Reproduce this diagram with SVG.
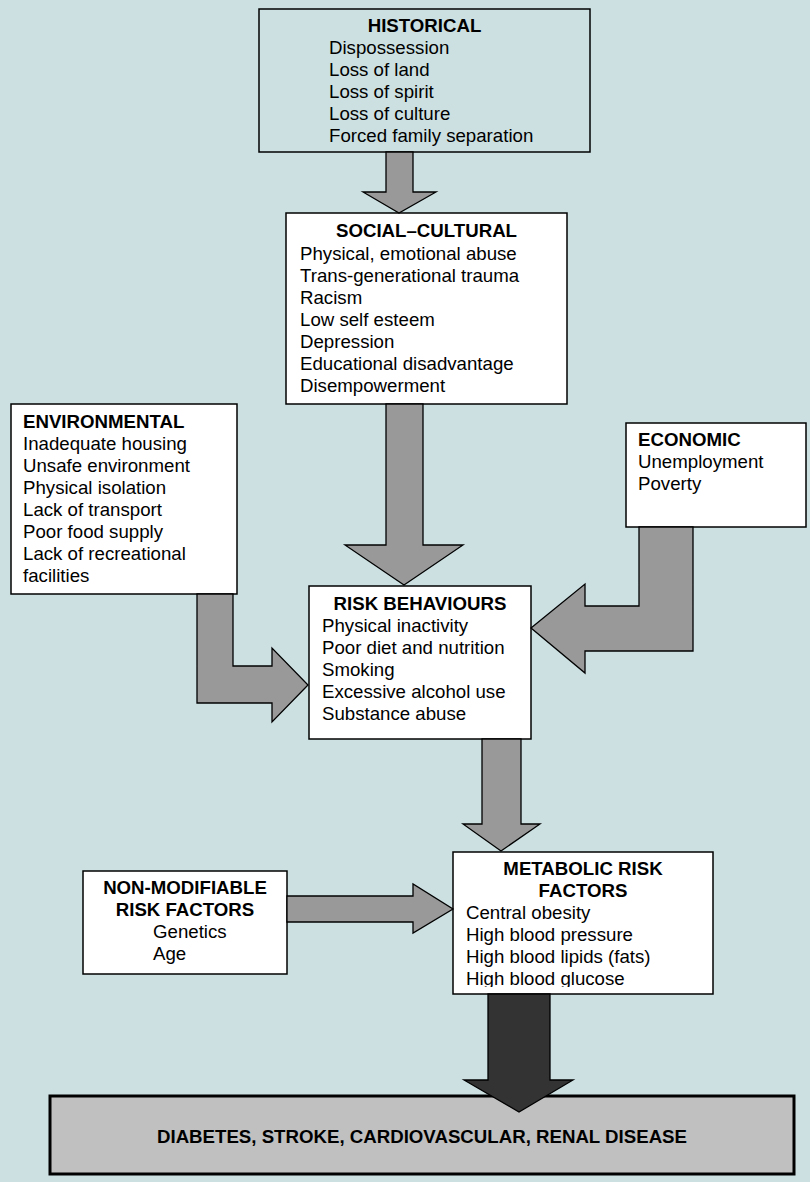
<svg xmlns="http://www.w3.org/2000/svg" width="810" height="1182" viewBox="0 0 810 1182">
<defs>
<style>
text{font-family:"Liberation Sans",Arial,sans-serif;font-size:18.67px;fill:#000}
.t{font-weight:bold}
.c{text-anchor:middle}
.box{fill:#fff;stroke:#000;stroke-width:1.5}
.arr{fill:#999;stroke:#000;stroke-width:1.3;stroke-linejoin:miter}
.dark{fill:#333;stroke:#000;stroke-width:1.3}
</style>
<clipPath id="mclip"><rect x="453" y="852" width="260" height="135"/></clipPath>
</defs>
<rect width="810" height="1182" fill="#CCE0E2"/>

<g id="historical">
<rect x="259" y="9" width="331" height="143" fill="#CCE0E2" stroke="#000" stroke-width="1.5"/>
<text class="t c" x="424.5" y="32">HISTORICAL</text>
<text x="329" y="54">Dispossession</text>
<text x="329" y="76">Loss of land</text>
<text x="329" y="98">Loss of spirit</text>
<text x="329" y="120">Loss of culture</text>
<text x="329" y="142">Forced family separation</text>
</g>

<g id="social-cultural">
<rect class="box" x="286" y="213" width="281" height="191"/>
<text class="t c" x="426.5" y="237">SOCIAL–CULTURAL</text>
<text x="300" y="260">Physical, emotional abuse</text>
<text x="300" y="282">Trans-generational trauma</text>
<text x="300" y="304">Racism</text>
<text x="300" y="326">Low self esteem</text>
<text x="300" y="348">Depression</text>
<text x="300" y="370">Educational disadvantage</text>
<text x="300" y="392">Disempowerment</text>
</g>

<g id="environmental">
<rect class="box" x="11" y="404" width="226" height="190"/>
<text class="t" x="23" y="428">ENVIRONMENTAL</text>
<text x="23" y="450">Inadequate housing</text>
<text x="23" y="472">Unsafe environment</text>
<text x="23" y="494">Physical isolation</text>
<text x="23" y="516">Lack of transport</text>
<text x="23" y="538">Poor food supply</text>
<text x="23" y="560">Lack of recreational</text>
<text x="23" y="582">facilities</text>
</g>

<g id="economic">
<rect class="box" x="626" y="423" width="180" height="104"/>
<text class="t" x="638" y="446">ECONOMIC</text>
<text x="638" y="468">Unemployment</text>
<text x="638" y="490">Poverty</text>
</g>

<g id="risk-behaviours">
<rect class="box" x="309" y="586" width="222" height="153"/>
<text class="t c" x="420" y="610">RISK BEHAVIOURS</text>
<text x="322" y="632">Physical inactivity</text>
<text x="322" y="654">Poor diet and nutrition</text>
<text x="322" y="676">Smoking</text>
<text x="322" y="698">Excessive alcohol use</text>
<text x="322" y="720">Substance abuse</text>
</g>

<g id="non-modifiable">
<rect class="box" x="83" y="871" width="204" height="103"/>
<text class="t c" x="185" y="894">NON-MODIFIABLE</text>
<text class="t c" x="185" y="916">RISK FACTORS</text>
<text x="153" y="938">Genetics</text>
<text x="153" y="960">Age</text>
</g>

<g id="metabolic">
<rect class="box" x="453" y="852" width="260" height="142"/>
<text class="t c" x="583" y="875">METABOLIC RISK</text>
<text class="t c" x="583" y="897">FACTORS</text>
<g clip-path="url(#mclip)">
<text x="466" y="919">Central obesity</text>
<text x="466" y="941">High blood pressure</text>
<text x="466" y="963">High blood lipids (fats)</text>
<text x="466" y="985">High blood glucose</text>
</g>
</g>

<g id="disease">
<rect x="50" y="1096" width="744" height="78" fill="#C0C0C0" stroke="#000" stroke-width="3"/>
<text class="t c" x="422" y="1143">DIABETES, STROKE, CARDIOVASCULAR, RENAL DISEASE</text>
</g>

<g id="connectors">
<polygon class="arr" points="386,152 413,152 413,192 436,192 399,213 363,192 386,192"/>
<polygon class="arr" points="386,404 423,404 423,545 463,545 404,585 345,545 386,545"/>
<polygon class="arr" points="197,594 233,594 233,666 272,666 272,648 308,685 272,722 272,703 197,703"/>
<polygon class="arr" points="639,527 693,527 693,651 585,651 585,673 531,628 585,584 585,606 639,606"/>
<polygon class="arr" points="482,739 521,739 521,824 540,824 501,851 463,824 482,824"/>
<polygon class="arr" points="287,896 413,896 413,884 453,909 413,933 413,922 287,922"/>
<polygon class="dark" points="488,994 550,994 550,1080 573,1080 519,1112 464,1080 488,1080"/>
</g>
</svg>
